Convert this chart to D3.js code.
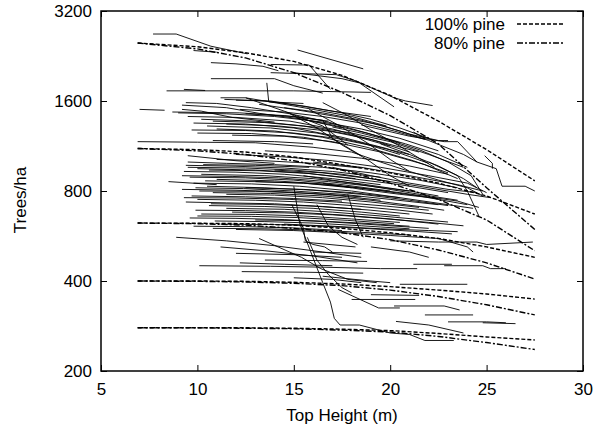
<!DOCTYPE html>
<html>
<head>
<meta charset="utf-8">
<script src="https://cdn.jsdelivr.net/npm/d3@7"></script>
<style>
  body { margin: 0; background: #fff; }
  text { font-family: "Liberation Sans", Arial, sans-serif; fill: #000; }
</style>
</head>
<body>
<svg id="chart" width="606" height="429"></svg>
<script>
// Top heights (m) at which the model curves are given
const modelHeights = [6.9, 10, 12.5, 15, 17.5, 20, 22.5, 25, 27.5];

// Model trajectories, trees/ha, one row per starting density
const pine100 = [
  [2500, 2430, 2320, 2170, 1950, 1670, 1370, 1100, 865],
  [1110, 1100, 1080, 1040, 980, 920, 850, 770, 670],
  [625, 624, 622, 615, 600, 580, 555, 520, 480],
  [400, 400, 399, 396, 391, 383, 373, 362, 348],
  [279, 279, 279, 278, 276, 273, 267, 260, 254]
];
const pine80 = [
  [2500, 2390, 2230, 1990, 1710, 1430, 1150, 820, 595],
  [1110, 1090, 1060, 1010, 940, 850, 750, 640, 505],
  [625, 622, 615, 600, 580, 550, 508, 460, 406],
  [400, 399, 397, 393, 386, 373, 355, 333, 308],
  [279, 279, 278, 277, 274, 270, 261, 249, 236]
];

// Observed plots: [top height, trees/ha] per remeasurement
const plots = [
  [[7.7,2680],[8.9,2680],[10.7,2440],[12.6,2300]],
  [[9.8,2360],[11.0,2330]],
  [[10.7,2150],[12.0,2130],[13.4,2090],[14.2,2020]],
  [[13.8,2120],[15.8,2110],[16.9,1750]],
  [[15.2,2370],[18.6,2050]],
  [[13.8,1990],[17.2,1960],[18.2,1870],[20.2,1640],[20.8,1600],[22.2,1545]],
  [[15.0,1990],[17.5,1900],[18.4,1840],[20.2,1530]],
  [[10.7,1900],[14.0,1900],[15.0,1800],[16.5,1700]],
  [[8.4,1730],[15.0,1730],[19.0,1710]],
  [[9.3,1750],[10.4,1735]],
  [[13.6,1840],[13.7,1590],[15.5,1570]],
  [[11.4,1620],[13.8,1600],[17.0,1480],[19.0,1420]],
  [[12.5,1640],[14.5,1480],[16.5,1320],[17.8,1140]],
  [[7.0,1500],[8.3,1490]],
  [[9.2,1500],[10.2,1480],[11.8,1410],[14.0,1360]],
  [[9.2,1550],[11.5,1520],[13.2,1455],[15.5,1390],[17.5,1300]],
  [[8.7,1470],[12.2,1460],[14.5,1430],[16.8,1370]],
  [[9.5,1420],[12.0,1410],[14.8,1370],[17.0,1290],[19.2,1180],[21.0,1080]],
  [[10.2,1390],[13.0,1370],[15.5,1320],[17.8,1240],[20.0,1130]],
  [[9.8,1350],[12.5,1340],[15.0,1300],[17.5,1210],[19.8,1110],[22.0,990]],
  [[10.5,1320],[13.8,1300],[16.2,1250],[18.5,1160],[20.5,1060]],
  [[11.0,1290],[14.0,1270],[16.5,1210],[18.8,1120],[21.2,1010],[23.0,920]],
  [[10.0,1250],[12.8,1245],[15.5,1210],[17.5,1150]],
  [[11.8,1230],[14.5,1220],[17.0,1170],[19.5,1080],[21.8,980],[23.5,880]],
  [[9.4,1580],[11.0,1570],[12.8,1520],[14.8,1450],[16.8,1360],[18.6,1260],[20.5,1160]],
  [[12.0,1610],[13.5,1600],[15.5,1540],[17.5,1460],[19.0,1390],[20.5,1300],[22.0,1200]],
  [[11.2,1640],[12.5,1640],[14.0,1580],[16.0,1500],[18.0,1420],[19.8,1320]],
  [[13.2,1560],[15.0,1500],[17.2,1420],[19.5,1330],[21.0,1240],[22.5,1180],[23.0,1180]],
  [[14.5,1520],[16.5,1460],[18.5,1380],[20.5,1270],[22.0,1180],[23.8,1060],[24.5,1000]],
  [[10.8,1180],[14.0,1170],[16.0,1150]],
  [[12.5,1450],[15.0,1420],[16.5,1380],[17.0,1200],[18.5,1050]],
  [[15.8,1500],[17.3,1330],[18.8,1160],[20.0,1020],[21.0,930]],
  [[16.5,1580],[17.8,1430],[19.0,1280],[20.5,1130],[21.5,1030],[22.3,960]],
  [[14.8,1450],[16.2,1300],[17.5,1140],[18.8,1020],[20.0,900],[21.0,830]],
  [[17.0,1310],[18.5,1250],[20.0,1180],[21.5,1100],[23.0,1000],[24.2,900],[24.8,780]],
  [[22.0,1000],[23.5,900],[24.0,800],[24.6,660]],
  [[18.5,1330],[21.0,1220],[22.8,1170],[23.5,1170],[24.5,1000],[25.5,950],[25.8,830],[27.0,830],[27.5,800]],
  [[24.9,1050],[25.3,990],[25.3,950]],
  [[21.2,1260],[21.8,1200]],
  [[9.0,1460],[11.5,1450],[14.0,1420],[16.5,1360],[18.5,1290],[20.5,1200],[22.5,1090]],
  [[10.8,1370],[13.5,1355],[16.0,1310],[18.0,1250],[20.0,1170],[22.0,1060],[23.8,960]],
  [[11.5,1340],[14.2,1320],[16.8,1270],[19.0,1190],[21.5,1080]],
  [[9.7,1280],[12.5,1275],[15.0,1250],[17.2,1200],[19.2,1130],[21.0,1060]],
  [[12.2,1500],[14.5,1470],[16.5,1420],[18.5,1350],[20.2,1270],[21.8,1190]],
  [[15.2,1400],[17.0,1330],[18.8,1250],[20.8,1150],[22.5,1060],[24.0,960]],
  [[6.9,1170],[10.0,1165],[13.0,1160],[16.0,1120],[18.0,1080]],
  [[9.5,1050],[12.0,1010],[14.0,990]],
  [[9.5,960],[12.5,955],[15.0,940],[17.5,910],[20.0,860]],
  [[10.0,950],[13.0,940],[15.5,920],[18.0,880],[20.5,840],[23.0,790]],
  [[9.3,930],[12.0,925],[14.5,910],[17.0,880],[19.5,840]],
  [[10.2,910],[13.5,900],[16.0,880],[18.5,845],[21.0,800],[22.5,770]],
  [[9.6,890],[12.5,885],[15.0,870],[17.5,840],[20.0,800]],
  [[11.0,875],[14.0,865],[16.5,845],[19.0,810],[21.5,770],[24.0,720]],
  [[8.5,860],[11.0,840]],
  [[9.8,850],[12.8,845],[15.3,830],[18.0,800],[20.5,760]],
  [[10.5,830],[13.5,820],[16.0,805],[18.5,780],[21.0,745],[23.0,715]],
  [[9.2,810],[12.0,805],[14.5,795],[17.0,775],[19.5,745]],
  [[10.8,790],[13.8,785],[16.5,770],[19.0,745],[21.5,710],[22.8,690]],
  [[9.5,1000],[11.5,990],[14.0,980],[16.5,960],[19.0,920],[21.5,870],[23.5,820]],
  [[10.3,980],[13.0,975],[15.8,960]],
  [[12.0,1060],[14.5,1040],[17.0,1010],[19.5,960],[22.0,900],[24.0,850],[25.0,790]],
  [[13.5,1090],[16.0,1070],[18.5,1030],[21.0,970],[23.0,910]],
  [[9.4,975],[12.0,968],[14.5,955],[17.0,930],[19.5,890]],
  [[10.6,940],[13.2,935],[15.8,915],[18.2,880]],
  [[9.2,900],[11.8,895],[14.2,885],[16.8,860],[19.0,830],[21.0,800]],
  [[10.4,865],[13.0,860],[15.5,850],[18.0,820]],
  [[9.9,820],[12.4,815],[15.0,800],[17.5,780],[20.0,750],[22.5,720]],
  [[10.1,800],[13.0,798],[16.0,785],[18.5,765]],
  [[11.5,780],[14.0,775],[16.5,760],[19.0,735],[21.5,705]],
  [[9.3,760],[12.0,758],[14.8,750],[17.2,735],[19.8,712],[22.0,690]],
  [[10.7,725],[13.4,722],[16.0,712],[18.5,695]],
  [[11.8,680],[14.5,676],[17.0,666],[19.5,648],[22.0,628],[23.8,612]],
  [[10.0,660],[12.8,658],[15.2,652],[17.8,638],[20.2,622]],
  [[10.8,600],[13.5,598],[16.0,592],[18.5,582],[21.0,570]],
  [[13.0,640],[16.0,636],[18.5,625],[21.0,610]],
  [[14.5,620],[17.0,610],[19.5,598],[22.0,590],[23.5,585]],
  [[15.5,900],[17.5,860],[19.5,820],[21.5,780],[23.5,745]],
  [[16.5,850],[18.5,810],[20.5,780],[22.5,755]],
  [[17.0,960],[19.0,900],[21.0,850],[23.0,810],[24.5,790]],
  [[18.0,1080],[19.5,1000],[21.0,930],[22.5,870],[24.0,820],[24.8,770]],
  [[19.5,1150],[21.0,1060],[22.5,970],[23.8,880],[24.5,820]],
  [[16.2,720],[16.8,610],[17.5,560],[18.3,530]],
  [[17.8,780],[18.2,640],[18.6,560]],
  [[9.7,770],[12.5,765],[15.0,755],[17.5,740]],
  [[10.0,750],[13.0,745],[15.5,735],[18.0,715],[20.5,690],[22.2,670]],
  [[9.4,735],[11.5,730],[14.0,725],[16.5,710],[19.0,690],[21.0,670]],
  [[10.6,715],[13.5,710],[16.0,700],[18.5,680],[20.5,660]],
  [[11.5,700],[14.5,695],[17.0,680],[19.5,660],[21.8,640],[23.0,630]],
  [[9.9,690],[12.5,688],[15.0,680],[17.5,665],[20.0,645],[22.5,620]],
  [[10.2,670],[13.0,668],[15.5,660],[18.0,645],[20.5,628]],
  [[9.6,650],[12.0,648],[14.5,642],[17.0,630],[19.5,615],[22.0,600]],
  [[10.9,635],[13.5,632],[16.0,625],[18.5,612],[21.0,598]],
  [[11.2,620],[14.0,618],[16.5,610],[19.0,598],[21.5,585],[23.2,575]],
  [[9.8,610],[12.5,608],[15.0,602],[17.5,590]],
  [[12.0,595],[15.0,590],[17.5,580],[20.0,568],[22.5,555],[24.0,520],[24.3,500]],
  [[12.5,820],[15.5,810],[18.0,790],[20.5,760],[23.0,720],[24.3,700]],
  [[13.0,860],[15.5,850],[18.0,825],[20.5,790],[23.5,740],[24.6,705]],
  [[14.0,940],[16.5,920],[19.0,880],[21.5,830],[24.0,780],[25.2,760]],
  [[16.0,1000],[18.5,960],[21.0,900],[23.5,840],[24.8,800]],
  [[11.0,1020],[13.5,1010],[16.0,990],[18.5,955]],
  [[15.0,830],[15.3,625],[16.5,395],[16.9,340],[17.1,300],[17.4,285],[18.4,285],[20.0,268],[21.0,265],[21.8,253],[23.3,253]],
  [[14.9,720],[15.5,600],[15.6,545],[16.0,530],[16.6,520],[17.0,500]],
  [[15.7,560],[16.2,470],[16.8,420],[17.5,380],[18.0,365]],
  [[13.2,555],[15.4,480],[16.4,440],[17.8,405],[19.3,395]],
  [[8.9,560],[11.5,545],[14.0,525],[16.5,500],[18.5,480]],
  [[11.2,520],[13.5,505],[16.0,485],[18.3,460]],
  [[12.0,495],[15.0,490],[17.5,480]],
  [[13.5,470],[16.5,468],[18.8,465]],
  [[10.1,450],[13.8,448],[16.5,445],[19.5,440],[21.4,440]],
  [[12.3,430],[15.5,428],[18.6,425]],
  [[12.2,460],[14.5,455],[17.0,450]],
  [[15.5,540],[17.5,525],[18.2,520]],
  [[16.0,500],[18.5,495]],
  [[19.0,520],[21.0,500],[22.0,480]],
  [[20.0,545],[22.5,540],[24.5,540],[25.0,530],[27.4,540]],
  [[21.2,455],[23.2,455]],
  [[22.8,450],[24.8,450],[25.2,440],[26.0,440]],
  [[17.3,375],[19.4,325],[20.5,325]],
  [[20.2,330],[22.8,330],[23.6,320]],
  [[21.8,308],[24.3,308]],
  [[23.0,292],[25.0,292],[26.0,290]],
  [[24.8,290],[26.5,288]],
  [[20.3,293],[22.0,285],[23.8,268]],
  [[20.5,390],[24.0,390]],
  [[19.0,360],[21.5,358]],
  [[18.0,347],[21.3,347]],
  [[16.5,415],[19.0,400],[20.0,395]],
  [[15.0,410],[17.0,405],[18.5,395]]
];

const xTicks = [5, 10, 15, 20, 25, 30];
const yTicks = [200, 400, 800, 1600, 3200];
const legendLabels = ['100% pine', '80% pine'];

const margin = {top: 11, right: 23, bottom: 58, left: 101};
const width = 606 - margin.left - margin.right;
const height = 429 - margin.top - margin.bottom;

const svg = d3.select('#chart');
const chart = svg.append('g')
    .attr('transform', `translate(${margin.left},${margin.top})`);

const xScale = d3.scaleLinear().domain([5, 30]).range([0, width]);
const yScale = d3.scaleLog().domain([200, 3200]).range([height, 0]);

const line = d3.line()
    .x(d => xScale(d[0]))
    .y(d => yScale(d[1]));

// Observed plot trajectories
chart.append('g')
  .selectAll('path')
  .data(plots)
  .join('path')
    .attr('d', line)
    .attr('fill', 'none')
    .attr('stroke', '#000')
    .attr('stroke-width', 0.9);

// Model curves
const dashes = ['4,2', '6,2,2,2'];
[pine100, pine80].forEach((set, i) => {
  chart.append('g')
    .selectAll('path')
    .data(set.map(row => row.map((n, j) => [modelHeights[j], n])))
    .join('path')
      .attr('d', line)
      .attr('fill', 'none')
      .attr('stroke', '#000')
      .attr('stroke-width', 1.4)
      .attr('stroke-dasharray', dashes[i]);
});

// Axes with inward ticks on all four sides
const fontSize = '17px';
const styleAxis = g => {
  g.select('.domain').remove();
  g.selectAll('.tick line').attr('stroke', '#000').attr('stroke-width', 1);
  g.selectAll('.tick text').style('font-size', fontSize).attr('fill', '#000')
    .style('font-family', '"Liberation Sans", Arial, sans-serif');
};

chart.append('g')
    .attr('transform', `translate(0,${height})`)
    .call(d3.axisBottom(xScale).tickValues(xTicks).tickSize(-6).tickPadding(12))
    .call(styleAxis);
chart.append('g')
    .call(d3.axisTop(xScale).tickValues(xTicks).tickSize(-6).tickFormat(''))
    .call(styleAxis);
chart.append('g')
    .call(d3.axisLeft(yScale).tickValues(yTicks).tickSize(-6).tickPadding(9).tickFormat(d3.format('d')))
    .call(styleAxis);
chart.append('g')
    .attr('transform', `translate(${width},0)`)
    .call(d3.axisRight(yScale).tickValues(yTicks).tickSize(-6).tickFormat(''))
    .call(styleAxis);

// Frame
chart.append('rect')
    .attr('width', width)
    .attr('height', height)
    .attr('fill', 'none')
    .attr('stroke', '#000')
    .attr('stroke-width', 1.5);

// Legend
const legend = svg.append('g');
legendLabels.forEach((label, i) => {
  const y = 24 + i * 19;
  legend.append('text')
      .attr('x', 505)
      .attr('y', y)
      .attr('dy', '0.35em')
      .attr('text-anchor', 'end')
      .style('font-size', fontSize)
      .text(label);
  legend.append('line')
      .attr('x1', 517).attr('x2', 563)
      .attr('y1', y).attr('y2', y)
      .attr('stroke', '#000')
      .attr('stroke-width', 1.4)
      .attr('stroke-dasharray', dashes[i]);
});

// Axis titles
svg.append('text')
    .attr('x', margin.left + width / 2)
    .attr('y', 415)
    .attr('dy', '0.35em')
    .attr('text-anchor', 'middle')
    .style('font-size', fontSize)
    .text('Top Height (m)');

svg.append('text')
    .attr('transform', 'translate(20,200) rotate(-90)')
    .attr('dy', '0.35em')
    .attr('text-anchor', 'middle')
    .style('font-size', fontSize)
    .text('Trees/ha');
</script>
</body>
</html>
